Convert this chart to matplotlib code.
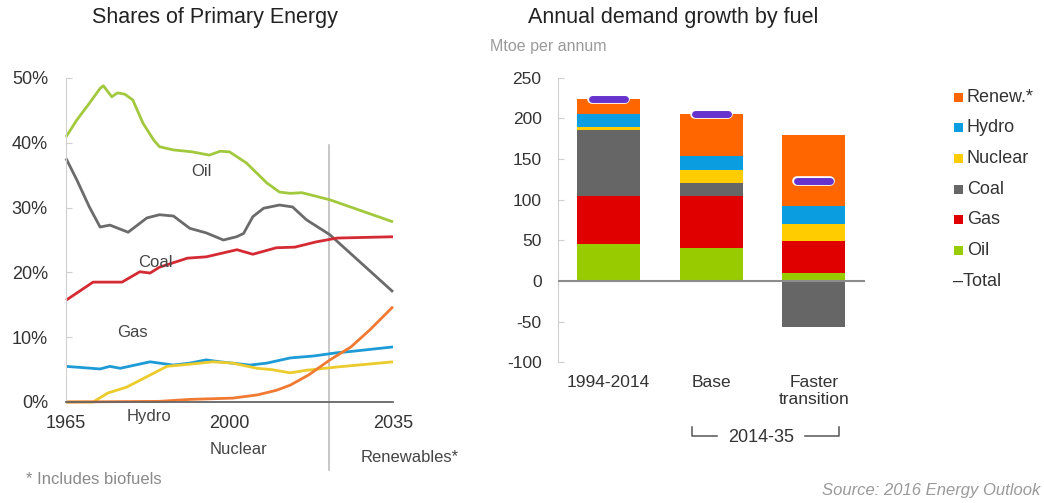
import matplotlib.pyplot as plt
import matplotlib.patheffects as pe
from matplotlib.patches import Rectangle
import numpy as np

plt.rcParams['font.family'] = ['Liberation Sans', 'DejaVu Sans']
plt.rcParams['axes.unicode_minus'] = False

# --- shares of primary energy (%) ---
oil_years = [1965, 1967.3, 1970, 1972.3, 1973, 1974.8, 1976, 1977.6, 1979.3, 1981.5, 1983.8, 1985,
             1988, 1992, 1995.7, 1998, 2000, 2003.6, 2008, 2010.7, 2013, 2015.5, 2021.5, 2035]
oil_share = [40.9, 43.5, 46.1, 48.4, 48.8, 47.1, 47.7, 47.5, 46.6, 43.0, 40.4, 39.4,
             38.9, 38.6, 38.1, 38.7, 38.6, 36.9, 33.8, 32.4, 32.2, 32.3, 31.2, 27.8]

coal_years = [1965, 1967.3, 1970, 1972.3, 1974.4, 1978.3, 1982.3, 1985, 1988, 1991.5, 1995, 1998.7,
              2001.5, 2003, 2005, 2007.3, 2010.7, 2013.5, 2016.5, 2020, 2021.5, 2035]
coal_share = [37.6, 34.3, 30.1, 27.0, 27.3, 26.2, 28.4, 28.9, 28.7, 26.8, 26.1, 25.0,
              25.5, 26.0, 28.6, 29.9, 30.4, 30.1, 28.1, 26.5, 25.8, 17.0]

gas_years = [1965, 1970.8, 1973.7, 1977, 1980.8, 1983, 1985, 1991, 1995, 2001.6, 2005, 2010,
             2014, 2018.5, 2023, 2035]
gas_share = [15.7, 18.5, 18.5, 18.5, 20.1, 19.9, 20.8, 22.2, 22.4, 23.5, 22.8, 23.8,
             23.9, 24.7, 25.3, 25.5]

hydro_years = [1965, 1972.3, 1974.4, 1976.6, 1983, 1988, 1991.5, 1995, 1998, 2004.4, 2008, 2013,
               2018, 2023, 2026, 2035]
hydro_share = [5.5, 5.1, 5.5, 5.2, 6.2, 5.7, 6.0, 6.5, 6.2, 5.7, 6.0, 6.8,
               7.1, 7.6, 7.8, 8.5]

nuclear_years = [1965, 1970.8, 1974, 1978, 1982.3, 1986.6, 1991, 1996.5, 2000.7, 2005.9, 2009,
                 2013, 2016.5, 2023, 2035]
nuclear_share = [0.0, 0.0, 1.4, 2.3, 3.9, 5.5, 5.8, 6.2, 6.0, 5.2, 5.0,
                 4.5, 4.9, 5.4, 6.2]

renew_years = [1965, 1985, 1991.5, 2000.7, 2006, 2010, 2013, 2017, 2021.5, 2026, 2030, 2035]
renew_share = [0.0, 0.1, 0.4, 0.6, 1.1, 1.8, 2.6, 4.2, 6.5, 8.5, 11.1, 14.7]

outlook_split = 2021.3

# --- annual demand growth by fuel (Mtoe per annum) ---
cases = ['1994-2014', 'Base', 'Faster\ntransition']
fuels = ['Oil', 'Gas', 'Coal', 'Nuclear', 'Hydro', 'Renew.*']
growth = {
    'Oil':     [45, 40, 10],
    'Gas':     [59, 64, 39],
    'Coal':    [82, 17, -56],
    'Nuclear': [4, 15, 21],
    'Hydro':   [16, 18, 22],
    'Renew.*': [18, 51, 87],
}
y_ticks = [250, 200, 150, 100, 50, 0, -50, -100]

line_colors = {'Oil': '#a2c93e', 'Coal': '#6b6b6b', 'Gas': '#d42a33',
               'Hydro': '#1e9bd7', 'Nuclear': '#eccb2c', 'Renew.*': '#f07a32'}
bar_colors = {'Oil': '#99cc00', 'Gas': '#e00000', 'Coal': '#666666',
              'Nuclear': '#ffcc00', 'Hydro': '#0a9ee0', 'Renew.*': '#ff6600'}
total_color = '#6633cc'
text_c = '#333333'

W, H = 1044, 503


def fx(px):
    return px / W


def fy(py):
    return 1 - py / H


fig = plt.figure(figsize=(W / 100, H / 100), dpi=100)

# ---------------- left panel ----------------
ax1 = fig.add_axes([fx(66), fy(402), (393 - 66) / W, (402 - 78) / H])
series = [('Oil', oil_years, oil_share), ('Coal', coal_years, coal_share),
          ('Gas', gas_years, gas_share), ('Hydro', hydro_years, hydro_share),
          ('Nuclear', nuclear_years, nuclear_share), ('Renew.*', renew_years, renew_share)]
for name, yrs, vals in series:
    ax1.plot(yrs, vals, color=line_colors[name], lw=2.0, solid_capstyle='butt', clip_on=False)

ax1.plot([outlook_split, outlook_split], [-10.5, 39.7], color='#bdbdbd', lw=1.2, clip_on=False, zorder=0)

ax1.set_xlim(1965, 2035)
ax1.set_ylim(0, 50)
ax1.set_yticks([0, 10, 20, 30, 40, 50])
ax1.set_yticklabels([f'{v}%' for v in [0, 10, 20, 30, 40, 50]])
ax1.set_xticks([1965, 2000, 2035])
ax1.tick_params(axis='y', direction='in', length=4, color='#d0d0d0', pad=13,
                labelsize=13, labelcolor=text_c)
ax1.tick_params(axis='x', length=0, pad=9, labelsize=13, labelcolor=text_c)
for s in ['top', 'right']:
    ax1.spines[s].set_visible(False)
ax1.spines['left'].set_color('#d0d0d0')
ax1.spines['bottom'].set_color('#666666')
ax1.spines['bottom'].set_linewidth(1.3)

lbl = dict(fontsize=12, color='#444444', ha='center', va='center')
ax1.text(1993.9, 35.5, 'Oil', **lbl)
ax1.text(1984.1, 21.6, 'Coal', **lbl)
ax1.text(1979.3, 10.8, 'Gas', **lbl)
ax1.text(1982.8, -2.2, 'Hydro', **lbl)
ax1.text(2002.0, -7.3, 'Nuclear', **lbl)
ax1.text(2038.6, -8.5, 'Renewables*', **lbl)

fig.text(fx(215), fy(17), 'Shares of Primary Energy', fontsize=15.5, color='#222222',
         ha='center', va='center')
fig.text(fx(26), fy(479), '* Includes biofuels', fontsize=12, color='#8a8a8a',
         ha='left', va='center')

# ---------------- right panel ----------------
ax2 = fig.add_axes([fx(557.5), fy(362.3), (865 - 557.5) / W, (362.3 - 77.75) / H])
x = np.arange(len(cases))
pos_base = np.zeros(len(cases))
neg_base = np.zeros(len(cases))
for f in fuels:
    v = np.array(growth[f], dtype=float)
    bottom = np.where(v >= 0, pos_base, neg_base)
    ax2.bar(x, v, width=0.61, bottom=bottom, color=bar_colors[f], linewidth=0, zorder=2)
    pos_base += np.where(v >= 0, v, 0)
    neg_base += np.where(v < 0, v, 0)

totals = sum(np.array(growth[f], dtype=float) for f in fuels)
ax2.hlines(totals, x - 0.16, x + 0.16, colors=total_color, lw=5, capstyle='round', zorder=4,
           path_effects=[pe.withStroke(linewidth=7, foreground='white')])

ax2.axhline(0, color='#8c8c8c', lw=1.5, zorder=3)
ax2.set_xlim(-0.5, 2.5)
ax2.set_ylim(-100, 250)
ax2.set_yticks(y_ticks)
ax2.set_xticks(x)
ax2.set_xticklabels(cases, va='top')
ax2.tick_params(axis='y', direction='in', length=4, color='#d0d0d0', pad=11.5,
                labelsize=12.5, labelcolor=text_c)
ax2.tick_params(axis='x', length=0, pad=9, labelsize=12.5, labelcolor=text_c)
for s in ['top', 'right', 'bottom']:
    ax2.spines[s].set_visible(False)
ax2.spines['left'].set_color('#d0d0d0')

# bracket under the two 2014-35 cases
br = dict(color='#555555', lw=1.1, clip_on=False)
ax2.plot([0.81, 0.81, 1.06], [-180, -191, -191], **br)
ax2.plot([1.91, 2.25, 2.25], [-191, -191, -180], **br)
ax2.text(1.49, -192, '2014-35', fontsize=13, color=text_c, ha='center', va='center')

fig.text(fx(528), fy(17), 'Annual demand growth by fuel', fontsize=15.5, color='#222222',
         ha='left', va='center')
fig.text(fx(490), fy(47), 'Mtoe per annum', fontsize=11.5, color='#9a9a9a',
         ha='left', va='center')

# legend, top entry first
for i, f in enumerate(reversed(fuels)):
    yc = 97 + 30.7 * i
    fig.add_artist(Rectangle((fx(954), fy(yc + 4.5)), 9 / W, 9 / H,
                             transform=fig.transFigure, color=bar_colors[f], lw=0))
    fig.text(fx(967), fy(yc), f, fontsize=13, color=text_c, ha='left', va='center')
fig.text(fx(953), fy(97 + 30.7 * 6), '–Total', fontsize=13, color=text_c, ha='left', va='center')

fig.text(fx(1040), fy(490), 'Source: 2016 Energy Outlook', fontsize=12, color='#9a9a9a',
         style='italic', ha='right', va='center')

fig.savefig('out.png', dpi=100)
